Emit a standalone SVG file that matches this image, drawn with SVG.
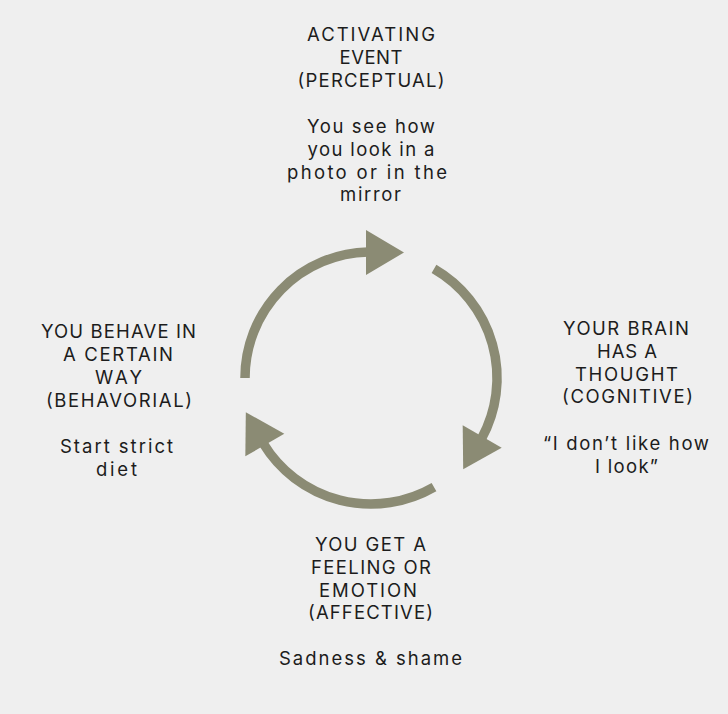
<svg xmlns="http://www.w3.org/2000/svg" xmlns:xlink="http://www.w3.org/1999/xlink" width="728" height="714" viewBox="0 0 728 714">
  <style>
    .t { font-family: Inter, "Liberation Sans", Arial, sans-serif; font-size: 18.5px; fill: #1c1c1c; text-anchor: middle; }
    .arc { fill: none; stroke: #8b8b74; stroke-width: 9.5; stroke-linecap: butt; }
    .head { fill: #8b8b74; }
  </style>
  <defs>
    <g id="arrow">
      <path class="arc" d="M245,378 A126,126 0 0 1 368,252"/>
      <polygon class="head" points="366,230 404,252.5 366,275"/>
    </g>
  </defs>
  <rect x="0" y="0" width="728" height="714" fill="#efefef"/>

  <g id="connectors">
    <use xlink:href="#arrow" href="#arrow"/>
    <use xlink:href="#arrow" href="#arrow" transform="rotate(120 371 378)"/>
    <use xlink:href="#arrow" href="#arrow" transform="rotate(240 371 378)"/>
  </g>

  <g id="node-activating">
    <text class="t" x="371" y="41" textLength="128" lengthAdjust="spacing">ACTIVATING</text>
    <text class="t" x="371" y="64" textLength="63" lengthAdjust="spacing">EVENT</text>
    <text class="t" x="371" y="86.5" textLength="147" lengthAdjust="spacing">(PERCEPTUAL)</text>
    <text class="t" x="371" y="133" textLength="128" lengthAdjust="spacing">You see how</text>
    <text class="t" x="371" y="156" textLength="127" lengthAdjust="spacing">you look in a</text>
    <text class="t" x="367" y="178.5" textLength="160" lengthAdjust="spacing">photo or in the</text>
    <text class="t" x="370.5" y="201" textLength="61" lengthAdjust="spacing">mirror</text>
  </g>

  <g id="node-cognitive">
    <text class="t" x="626" y="335" textLength="126" lengthAdjust="spacing">YOUR BRAIN</text>
    <text class="t" x="627" y="357.7" textLength="60" lengthAdjust="spacing">HAS A</text>
    <text class="t" x="626.5" y="380.5" textLength="103" lengthAdjust="spacing">THOUGHT</text>
    <text class="t" x="627.5" y="403" textLength="131" lengthAdjust="spacing">(COGNITIVE)</text>
    <text class="t" x="626" y="450" textLength="166" lengthAdjust="spacing">“I don’t like how</text>
    <text class="t" x="626.5" y="472.5" textLength="63" lengthAdjust="spacing">I look”</text>
  </g>

  <g id="node-affective">
    <text class="t" x="370.5" y="551" textLength="111" lengthAdjust="spacing">YOU GET A</text>
    <text class="t" x="371" y="574" textLength="120" lengthAdjust="spacing">FEELING OR</text>
    <text class="t" x="368" y="596.5" textLength="98" lengthAdjust="spacing">EMOTION</text>
    <text class="t" x="370.5" y="619" textLength="125" lengthAdjust="spacing">(AFFECTIVE)</text>
    <text class="t" x="370.5" y="665" textLength="183" lengthAdjust="spacing">Sadness &amp; shame</text>
  </g>

  <g id="node-behavioral">
    <text class="t" x="118.5" y="338" textLength="155" lengthAdjust="spacing">YOU BEHAVE IN</text>
    <text class="t" x="118" y="361" textLength="110" lengthAdjust="spacing">A CERTAIN</text>
    <text class="t" x="118.5" y="384" textLength="47" lengthAdjust="spacing">WAY</text>
    <text class="t" x="119" y="406.5" textLength="146" lengthAdjust="spacing">(BEHAVORIAL)</text>
    <text class="t" x="116.5" y="453" textLength="113" lengthAdjust="spacing">Start strict</text>
    <text class="t" x="116.5" y="476" textLength="41" lengthAdjust="spacing">diet</text>
  </g>
</svg>
